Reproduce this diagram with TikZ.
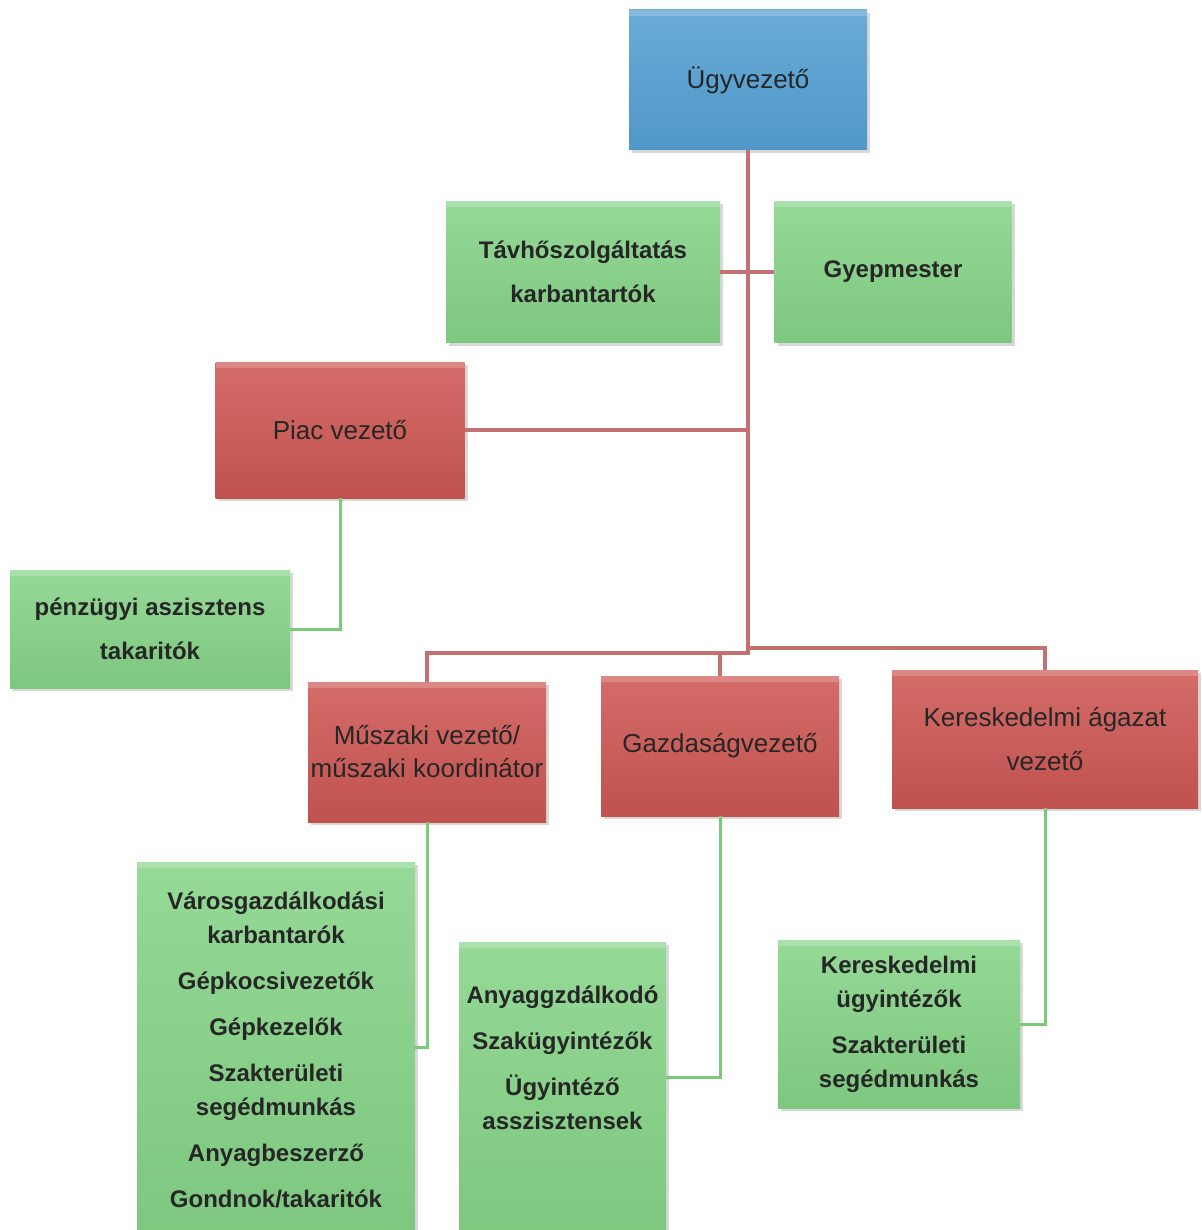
\documentclass[tikz,border=0pt]{standalone}
\usepackage{fontspec}
\setmainfont{Liberation Sans}
\usetikzlibrary{shadows}
\definecolor{kekszin}{RGB}{84,160,210}
\definecolor{zoldszin}{RGB}{134,212,136}
\definecolor{pirosszin}{RGB}{206,88,84}
\definecolor{vonalszin}{RGB}{196,112,112}
\definecolor{zoldvonalszin}{RGB}{122,202,122}
\tikzset{
  doboz/.style={rectangle, inner sep=0pt, align=center, text=black!85,
    drop shadow={opacity=.3, shadow xshift=1.5pt, shadow yshift=-1.5pt},
    path picture={\fill[white, opacity=.2] (path picture bounding box.north west)
      rectangle ([yshift=-3pt]path picture bounding box.north east);}},
  kek/.style={doboz, top color=kekszin!88!white, bottom color=kekszin!95!black,
    font=\fontsize{13}{16.5}\selectfont},
  zold/.style={doboz, top color=zoldszin!88!white, bottom color=zoldszin!94!black,
    font=\bfseries\fontsize{12}{17}\selectfont},
  piros/.style={doboz, top color=pirosszin!88!white, bottom color=pirosszin!93!black,
    font=\fontsize{13}{16.5}\selectfont},
  agvonal/.style={vonalszin, line width=2pt},
  zoldvonal/.style={zoldvonalszin, line width=1.5pt}
}
\begin{document}
\begin{tikzpicture}[x=0.5pt, y=-0.5pt]
    \useasboundingbox[fill=white] (0,0) rectangle (1201,1230);
    % vezetes
    \node[kek, minimum width=119pt, minimum height=70pt] (ugy) at (748,80) {Ügyvezető};
    \node[zold, minimum width=137pt, minimum height=70.5pt] (tavho) at (583,272) {Távhőszolgáltatás\\[5pt]karbantartók};
    \node[zold, minimum width=118.5pt, minimum height=70.5pt] (gyep) at (893,272) {Gyepmester};
    \node[piros, minimum width=124.5pt, minimum height=68pt] (piac) at (340,430) {Piac vezető};
    \node[zold, minimum width=140pt, minimum height=59pt] (penz) at (150,629) {pénzügyi aszisztens\\[5pt]takaritók};
    % agazatok
    \node[piros, minimum width=119pt, minimum height=70pt] (musz) at (427,752) {Műszaki vezető/\\műszaki koordinátor};
    \node[piros, minimum width=119pt, minimum height=70pt] (gazd) at (720,746) {Gazdaságvezető};
    \node[piros, minimum width=153pt, minimum height=69pt] (ker) at (1045,739) {Kereskedelmi ágazat\\[5.5pt]vezető};
    % beosztottak
    \node[zold] (varos) at (276,1048) {\parbox[c][186pt][t]{139pt}{\centering\vspace*{15pt}
      Városgazdálkodási\\karbantarók\\[6pt]Gépkocsivezetők\\[6pt]Gépkezelők\\[6pt]Szakterületi\\segédmunkás\\[6pt]Anyagbeszerző\\[6pt]Gondnok/takaritók}};
    \node[zold] (anyag) at (562.5,1088) {\parbox[c][146pt][t]{103.5pt}{\centering\vspace*{22pt}
      Anyaggzdálkodó\\[6pt]Szakügyintézők\\[6pt]Ügyintéző\\asszisztensek}};
    \node[zold, minimum width=121pt, minimum height=84pt] (kerugy) at (899,1024) {Kereskedelmi\\ügyintézők\\[6pt]Szakterületi\\segédmunkás};
    % vonalak
    \coordinate (csomo) at (748,648);
    \coordinate (lepcso) at (720,653);
    \draw[agvonal] (ugy.south) -- (csomo) -| (ker.north);
    \draw[agvonal] (csomo) |- (lepcso) -- (gazd.north);
    \draw[agvonal] (lepcso) -| (musz.north);
    \draw[agvonal] (tavho.east) -- (gyep.west);
    \draw[agvonal] (piac.east) -- (piac.east -| ugy.south);
    \path (varos.north east) ++(0,186) coordinate (varosbe);
    \path (anyag.north east) ++(0,136) coordinate (anyagbe);
    \draw[zoldvonal] (piac.south) |- (penz.east);
    \draw[zoldvonal] (musz.south) |- (varosbe);
    \draw[zoldvonal] (gazd.south) |- (anyagbe);
    \draw[zoldvonal] (ker.south) |- (kerugy.east);
\end{tikzpicture}
\end{document}
